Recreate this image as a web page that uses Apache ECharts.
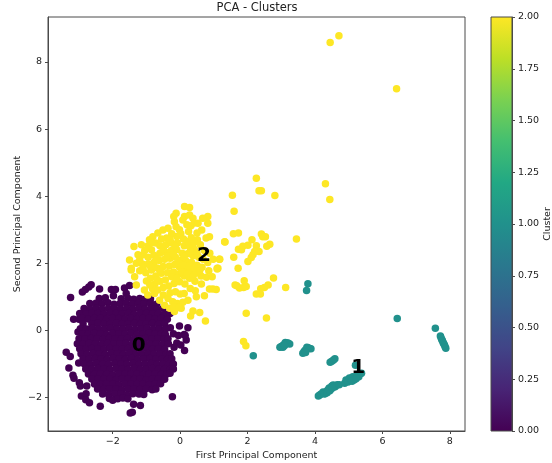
<!DOCTYPE html>
<html><head><meta charset="utf-8">
<style>html,body{margin:0;padding:0;background:#fff}#c{width:552px;height:463px}</style>
<script src="https://cdn.jsdelivr.net/npm/echarts@6/dist/echarts.min.js"></script>
</head><body><div id="c"></div>
<script>
const xTicks = [-2,0,2,4,6,8];
const yTicks = [-2,0,2,4,6,8];
const cluster0 = [
[-3.25,.98],[-2.9,1.14],[-2.81,1.22],[-2.71,1.29],[-2.64,1.36],[-2.39,1.23],[-2.04,1.22],[-1.92,1.22],[-1.65,1.26],[-1.5,1.34],[-1.98,1.03],[-1.6,1.1],
[-3.38,-.65],[-3.26,-.78],[-3.3,-1.12],[-3.18,-1.34],[-3.15,-1.43],[-2.99,-1.56],[-2.96,-1.66],[-2.77,-1.66],[-2.93,-1.96],[-2.79,-1.89],[-2.8,-2.07],[-2.69,-2.16],[-2.37,-2.26],[-1.38,-2.2],[-1.18,-2.24],[-1.42,-2.44],[-1.48,-2.46],[-.23,-1.98],
[-3.16,.33],[-3.0,.33],[-3.03,-.05],[-3.01,-.97],
[-.29,.08],[-.02,.13],[.23,.08],[-.2,-.1],[.12,-.12],[-.05,-.15],[.18,-.29],[.15,-.15],[-.1,-.38],[.02,-.44],[-.18,-.5],[.13,-.6],
[-2.4,.95],[-2.22,.97],[-1.75,.94],[-1.55,.96],[-1.38,.93],[-1.2,.95],[-1.05,.92],[-.88,.94],
[-2.68,.8],[-2.5,.81],[-2.32,.79],[-2.14,.82],[-1.96,.78],[-1.78,.8],[-1.6,.81],[-1.42,.78],[-1.24,.8],[-1.06,.79],[-.88,.81],[-.7,.78],
[-2.85,.65],[-2.67,.64],[-2.49,.66],[-2.31,.63],[-2.13,.65],[-1.95,.66],[-1.77,.64],[-1.59,.65],[-1.41,.63],[-1.23,.66],[-1.05,.64],[-.87,.65],[-.69,.63],[-.5,.66],
[-2.98,.5],[-2.8,.49],[-2.62,.51],[-2.44,.5],[-2.26,.48],[-2.08,.51],[-1.9,.5],[-1.72,.49],[-1.54,.51],[-1.36,.48],[-1.18,.5],[-1,.51],[-.82,.49],[-.64,.5],[-.46,.48],[-.3,.5],
[-2.9,.35],[-2.72,.34],[-2.54,.36],[-2.36,.35],[-2.18,.33],[-2,.36],[-1.82,.35],[-1.64,.34],[-1.46,.36],[-1.28,.33],[-1.1,.35],[-.92,.36],[-.74,.34],[-.56,.35],[-.38,.33],
[-2.88,.2],[-2.62,.19],[-2.44,.21],[-2.26,.2],[-2.08,.18],[-1.9,.21],[-1.72,.2],[-1.54,.19],[-1.36,.21],[-1.18,.18],[-1,.2],[-.82,.21],[-.64,.19],[-.46,.2],
[-2.96,.05],[-2.78,.04],[-2.6,.06],[-2.42,.05],[-2.24,.03],[-2.06,.06],[-1.88,.05],[-1.7,.04],[-1.52,.06],[-1.34,.03],[-1.16,.05],[-.98,.06],[-.8,.04],[-.62,.05],[-.44,.03],
[-2.9,-.1],[-2.72,-.11],[-2.54,-.09],[-2.36,-.1],[-2.18,-.12],[-2,-.09],[-1.82,-.1],[-1.64,-.11],[-1.46,-.09],[-1.28,-.12],[-1.1,-.1],[-.92,-.09],[-.74,-.11],[-.56,-.1],[-.44,-.12],
[-3.0,-.25],[-2.82,-.26],[-2.64,-.24],[-2.46,-.25],[-2.28,-.27],[-2.1,-.24],[-1.92,-.25],[-1.74,-.26],[-1.56,-.24],[-1.38,-.27],[-1.2,-.25],[-1.02,-.24],[-.84,-.26],[-.66,-.25],[-.48,-.27],[-.36,-.25],
[-3.05,-.4],[-2.87,-.41],[-2.69,-.39],[-2.51,-.4],[-2.33,-.42],[-2.15,-.39],[-1.97,-.4],[-1.79,-.41],[-1.61,-.39],[-1.43,-.42],[-1.25,-.4],[-1.07,-.39],[-.89,-.41],[-.71,-.4],[-.53,-.42],[-.35,-.4],
[-2.98,-.55],[-2.8,-.56],[-2.62,-.54],[-2.44,-.55],[-2.26,-.57],[-2.08,-.54],[-1.9,-.55],[-1.72,-.56],[-1.54,-.54],[-1.36,-.57],[-1.18,-.55],[-1,-.54],[-.82,-.56],[-.64,-.55],[-.46,-.57],
[-2.94,-.7],[-2.76,-.71],[-2.58,-.69],[-2.4,-.7],[-2.22,-.72],[-2.04,-.69],[-1.86,-.7],[-1.68,-.71],[-1.5,-.69],[-1.32,-.72],[-1.14,-.7],[-.96,-.69],[-.78,-.71],[-.6,-.7],[-.42,-.72],[-.3,-.7],
[-2.88,-.85],[-2.7,-.86],[-2.52,-.84],[-2.34,-.85],[-2.16,-.87],[-1.98,-.84],[-1.8,-.85],[-1.62,-.86],[-1.44,-.84],[-1.26,-.87],[-1.08,-.85],[-.9,-.84],[-.72,-.86],[-.54,-.85],[-.38,-.87],[-.25,-.85],
[-2.84,-1],[-2.66,-1.01],[-2.48,-.99],[-2.3,-1],[-2.12,-1.02],[-1.94,-.99],[-1.76,-1],[-1.58,-1.01],[-1.4,-.99],[-1.22,-1.02],[-1.04,-1],[-.86,-.99],[-.68,-1.01],[-.5,-1],[-.34,-1.02],[-.2,-1],
[-2.8,-1.15],[-2.62,-1.16],[-2.44,-1.14],[-2.26,-1.15],[-2.08,-1.17],[-1.9,-1.14],[-1.72,-1.15],[-1.54,-1.16],[-1.36,-1.14],[-1.18,-1.17],[-1,-1.15],[-.82,-1.14],[-.64,-1.16],[-.46,-1.15],[-.3,-1.17],[-.2,-1.15],
[-2.72,-1.3],[-2.54,-1.31],[-2.36,-1.29],[-2.18,-1.3],[-2,-1.32],[-1.82,-1.29],[-1.64,-1.3],[-1.46,-1.31],[-1.28,-1.29],[-1.1,-1.32],[-.92,-1.3],[-.74,-1.29],[-.56,-1.31],[-.4,-1.3],[-.3,-1.28],
[-2.62,-1.45],[-2.44,-1.46],[-2.26,-1.44],[-2.08,-1.45],[-1.9,-1.47],[-1.72,-1.44],[-1.54,-1.45],[-1.36,-1.46],[-1.18,-1.44],[-1,-1.47],[-.82,-1.45],[-.64,-1.44],[-.46,-1.46],
[-2.54,-1.6],[-2.36,-1.61],[-2.18,-1.59],[-2,-1.6],[-1.82,-1.62],[-1.64,-1.59],[-1.46,-1.6],[-1.28,-1.61],[-1.1,-1.59],[-.92,-1.62],[-.74,-1.6],[-.58,-1.59],
[-2.45,-1.75],[-2.27,-1.76],[-2.09,-1.74],[-1.91,-1.75],[-1.73,-1.77],[-1.55,-1.74],[-1.37,-1.75],[-1.19,-1.76],[-1.01,-1.74],[-.83,-1.77],[-.72,-1.75],
[-2.3,-1.9],[-2.12,-1.91],[-1.94,-1.89],[-1.76,-1.9],[-1.58,-1.92],[-1.4,-1.89],[-1.22,-1.9],[-1.08,-1.91],
[-2.1,-2.03],[-2,-2.08],[-1.85,-2.04],[-1.7,-2.02],[-1.55,-2.04]
];
const cluster1 = [
[3.79,1.39],[3.75,1.19],[6.44,.35],[7.57,.06],
[7.72,-.17],[7.74,-.22],[7.76,-.27],[7.78,-.31],[7.8,-.36],[7.82,-.4],[7.84,-.44],[7.86,-.49],[7.88,-.53],
[2.96,-.5],[3,-.48],[3.04,-.46],[3.08,-.42],[3.12,-.36],[3.16,-.38],[3.2,-.38],[3.25,-.41],[3.05,-.5],[3.1,-.45],[2.17,-.76],
[3.64,-.68],[3.68,-.62],[3.72,-.58],[3.76,-.5],[3.8,-.52],[3.84,-.54],[3.88,-.55],[3.72,-.66],
[4.45,-.95],[4.5,-.92],[4.55,-.88],[4.59,-.85],[5.2,-1.04],
[4.1,-1.96],[4.14,-1.93],[4.18,-1.9],[4.24,-1.84],[4.3,-1.88],[4.34,-1.82],[4.38,-1.78],[4.42,-1.72],[4.46,-1.76],[4.5,-1.66],[4.54,-1.63],[4.6,-1.68],[4.66,-1.62],[4.72,-1.62],
[4.28,-1.9],[4.36,-1.86],[4.44,-1.8],[4.52,-1.72],
[4.88,-1.58],[4.92,-1.48],[4.98,-1.54],[5.02,-1.42],[5.08,-1.46],[5.12,-1.38],[5.16,-1.48],[5.2,-1.38],[5.26,-1.32],[5.3,-1.38],[5.34,-1.3],[5.38,-1.28],[5.1,-1.52],[5.22,-1.44]
];
const cluster2 = [
[4.45,8.58],[4.71,8.78],[6.42,7.2],[2.26,4.53],[2.34,4.16],[2.41,4.16],[2.81,4.02],[1.55,4.03],[1.6,3.55],[4.31,4.37],[4.44,3.9],[3.45,2.72],
[1.58,2.88],[1.73,2.9],[1.33,2.63],[2.13,2.7],[2.01,2.54],[1.86,2.51],[1.73,2.42],[1.82,2.4],[2.41,2.87],[2.53,2.79],[2.45,2.79],[2.66,2.57],[2.57,2.51],[2.26,2.52],[2.34,2.35],[2.21,2.35],[2.16,2.25],[2.11,2.17],[2.01,2.05],[1.59,2.18],[1.17,2.12],[1.72,1.85],[1.1,1.85],
[1.63,1.35],[1.68,1.33],[1.9,1.48],[1.76,1.26],[1.88,1.28],[1.96,1.31],[2.77,1.56],[3.13,1.28],[2.61,1.35],[2.5,1.28],[2.39,1.24],[2.38,1.08],[2.26,1.08],[1.96,.51],[2.56,.37],[1.88,-.33],[1.95,-.46],
[.13,3.69],[.28,3.66],[-.12,3.49],[-.19,3.39],[-.17,3.24],[-.12,3.09],[.13,3.39],[.28,3.44],[.38,3.34],[.08,3.29],[.2,3.15],[.32,3.12],[.42,3.2],
[.82,3.39],[.67,3.34],[.53,3.19],[.82,3.19],[.64,2.99],[.87,2.79],[.77,2.75],[.33,2.76],[.51,2.7],
[-.36,3.04],[-.51,2.99],[-.66,2.9],[-.81,2.79],[-.91,2.7],[-1.37,2.5],[-1.15,2.55],[-1.5,2.1],[-1.25,2.25],[-1.45,1.85],[1.17,2.12],[1.32,2.64],[1.12,1.85],
[-.02,3.0],[.02,2.88],[-.1,2.8],[-.25,2.88],[-.4,2.75],[-.55,2.72],[-.72,2.6],[-.6,2.52],[-.85,2.4],[-.42,2.55],[-.25,2.6],[-.08,2.6],[.1,2.72],[.12,2.52],[.28,2.5],[.42,2.42],[.6,2.55],[.72,2.38],[.88,2.3],[.98,2.12],[.82,2.02],
[-1.1,2.25],[-.95,2.18],[-.78,2.24],[-.6,2.3],[-.42,2.32],[-.26,2.38],[-.1,2.4],[.06,2.3],[.22,2.28],[.38,2.22],[.55,2.18],[.68,2.12],[-1.3,2.0],[-1.12,1.98],[-.95,1.98],[-.78,2.02],[-.62,2.08],[-.46,2.12],[-.3,2.15],[-.14,2.18],[.02,2.1],[.18,2.06],[.34,2.02],[.5,1.94],[.65,1.88],[.85,1.78],
[-1.2,1.78],[-1.02,1.72],[-.85,1.8],[-.68,1.86],[-.5,1.9],[-.32,1.92],[-.16,1.96],[-.02,1.88],[.14,1.84],[.3,1.78],[.46,1.7],[.62,1.62],[.78,1.58],[.95,1.6],
[-1.45,1.8],[-1.35,1.6],[-1,1.47],[-1.3,1.35],[-1.06,1.2],[-.96,1.05],[-.76,1.1],[-.61,.9],[-.46,.75],[-.31,.66],[-.17,.56],[.03,.66],[.23,.9],[.48,1],[.72,1.03],[.87,1.23],[.97,1.23],[1.07,1.22],[.63,1.38],[.38,.58],[.31,.43],[.58,.53],[.75,.28],[1.1,1.83],
[-.88,1.55],[-.72,1.62],[-.56,1.7],[-.38,1.72],[-.2,1.74],[-.04,1.68],[.12,1.62],[.28,1.55],[.44,1.46],[-.75,1.38],[-.6,1.46],[-.44,1.5],[-.82,1.24],[-.66,1.2],[-.5,1.28],[-.34,1.32],[-.18,1.4],[-.02,1.45],[.14,1.38],[.3,1.25],[.45,1.18],
[-.5,1.05],[-.36,.95],[-.22,.85],[-.08,.8],[.08,.84],[-.3,1.12],[-.14,1.15],[0,1.08],[.12,1.1],[-.18,.7],[-.04,.68],
[-.3,2.7],[.22,2.65],[.42,2.62],[.25,2.95],[.5,2.9],[-.15,2.5],[-.7,2.12],[-.38,2.22],[.12,2.2],[.3,2.35],[.5,2.3],[-.95,2.52],[-1.05,2.38],[-1.2,2.1],[-.85,2.62],[-.5,2.42],[-.2,2.25],[-.05,2.0],[.1,1.95],[.26,1.92],[.42,1.85],[.58,1.78],[-.88,1.9],[-.6,1.78],[-1.1,1.85],[-.25,1.6],[-.1,1.55],[.05,1.75],[.22,1.68],[.38,1.6],[-.68,1.5],[-.9,1.35]
];
const clusterLabels = [[-1.23,-.47,'0'],[5.28,-1.12,'1'],[.71,2.23,'2']];
const cbarTicks = [0,.25,.5,.75,1,1.25,1.5,1.75,2];
const viridis = ['#440154','#482475','#414487','#355f8d','#2a788e','#21918c','#22a884','#44bf70','#7ad151','#bddf26','#fde725'];

const spine = '#4a4a4a', txt = '#222222', fam = '"DejaVu Sans"';
const fmt = v => String(v).replace('-', '\u2212');
const axisBase = {
  axisLine:{show:true,onZero:false,lineStyle:{color:spine,width:1}},
  axisTick:{show:true,length:3,lineStyle:{color:spine,width:1}},
  splitLine:{show:false},
  nameLocation:'middle',
  nameMoveOverlap:false,
  nameTextStyle:{color:txt,fontFamily:fam,fontSize:9.5}
};
const labelBase = {color:txt,fontFamily:fam,fontSize:9.5,margin:6};
const scat = (name,data,color) => ({name,type:'scatter',data,symbol:'circle',symbolSize:7.5,
  xAxisIndex:0,yAxisIndex:0,itemStyle:{color,opacity:1},emphasis:{disabled:true},silent:true,animation:false});

const chart = echarts.init(document.getElementById('c'),null,{renderer:'canvas'});
chart.setOption({
  animation:false,
  backgroundColor:'#fff',
  title:{text:'PCA - Clusters',left:257,top:2,padding:0,textAlign:'center',
    textStyle:{color:txt,fontFamily:fam,fontSize:11.5,fontWeight:'normal'}},
  grid:[
    {left:48,top:17,width:417,height:414,outerBoundsMode:'none',show:true,borderColor:spine,borderWidth:1,backgroundColor:'#fff'},
    {left:491,top:17,width:21,height:414,outerBoundsMode:'none',show:true,borderColor:spine,borderWidth:1,backgroundColor:'transparent',z:5}
  ],
  xAxis:[
    {...axisBase,type:'value',gridIndex:0,min:-3.92,max:8.45,name:'First Principal Component',nameGap:20,
      axisTick:{...axisBase.axisTick,customValues:xTicks},
      axisLabel:{...labelBase,customValues:xTicks,formatter:fmt}},
    {type:'category',gridIndex:1,data:['Cluster'],show:false}
  ],
  yAxis:[
    {...axisBase,type:'value',gridIndex:0,min:-3,max:9.34,name:'Second Principal Component',nameGap:25,
      axisTick:{...axisBase.axisTick,customValues:yTicks},
      axisLabel:{...labelBase,customValues:yTicks,formatter:fmt}},
    {...axisBase,type:'value',gridIndex:1,position:'right',min:0,max:2,interval:.25,name:'Cluster',nameRotate:90,nameGap:31,
      axisLabel:{...labelBase,formatter:v=>v.toFixed(2)}}
  ],
  series:[
    scat('Cluster 0',cluster0,'#440154'),
    scat('Cluster 1',cluster1,'#21918c'),
    scat('Cluster 2',cluster2,'#fde725'),
    {type:'scatter',data:clusterLabels,symbolSize:0,silent:true,z:10,xAxisIndex:0,yAxisIndex:0,itemStyle:{opacity:1},
      label:{show:true,position:'inside',formatter:p=>p.value[2],color:'#000',opacity:1,textBorderWidth:0,fontFamily:fam,fontSize:20,fontWeight:'bold'}},
    {type:'bar',xAxisIndex:1,yAxisIndex:1,data:[2],barWidth:'100%',silent:true,
      itemStyle:{color:new echarts.graphic.LinearGradient(0,1,0,0,viridis.map((c,i)=>({offset:i/(viridis.length-1),color:c})))}}
  ]
});
</script></body></html>
